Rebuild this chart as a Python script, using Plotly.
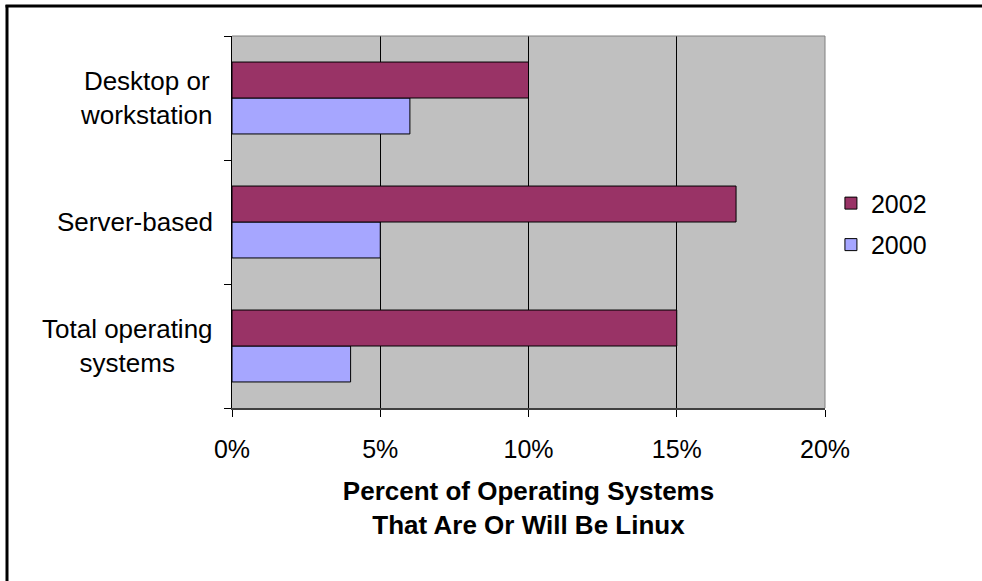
import plotly.graph_objects as go

categories = ["Total operating<br>systems", "Server-based", "Desktop or<br>workstation"]
values_2000 = [0.04, 0.05, 0.06]
values_2002 = [0.15, 0.17, 0.10]
x_ticks = [0, 0.05, 0.10, 0.15, 0.20]
x_tick_labels = ["0%", "5%", "10%", "15%", "20%"]

W, H = 982, 581
L, R, T, B = 232, 157, 36, 173
pw, ph = W - L - R, H - T - B

FONT = "Liberation Sans, Arial, sans-serif"
FS = 25
FS_LAB = 26

fig = go.Figure()
fig.add_trace(go.Bar(y=categories, x=values_2000, name="2000", orientation="h",
                     legendgroup="a", legendrank=2,
                     marker=dict(color="#A6A6FF", line=dict(color="#000000", width=1))))
fig.add_trace(go.Bar(y=categories, x=values_2002, name="2002", orientation="h",
                     legendgroup="b", legendrank=1,
                     marker=dict(color="#993366", line=dict(color="#000000", width=1))))

def px_x(p):
    return (p - L) / pw

def px_y(p):
    return (H - B - p) / ph

shapes = [
    dict(type="line", xref="paper", yref="paper", x0=0, x1=1, y0=1, y1=1,
         line=dict(color="#808080", width=1)),
    dict(type="line", xref="paper", yref="paper", x0=1, x1=1, y0=0, y1=1,
         line=dict(color="#808080", width=1)),
    dict(type="line", xref="paper", yref="paper", x0=px_x(7), x1=px_x(7), y0=px_y(5), y1=px_y(H),
         line=dict(color="#000000", width=3)),
    dict(type="line", xref="paper", yref="paper", x0=px_x(5.5), x1=px_x(W), y0=px_y(6), y1=px_y(6),
         line=dict(color="#000000", width=3)),
]

annotations = [
    dict(x=px_x(215), xref="paper", y=c, yref="y", text=c, showarrow=False,
         xanchor="right", yanchor="middle", align="center",
         font=dict(family=FONT, size=FS_LAB, color="#000000"))
    for c in categories
]

fig.update_layout(
    width=W, height=H,
    margin=dict(l=L, r=R, t=T, b=B, pad=0),
    paper_bgcolor="#FFFFFF",
    plot_bgcolor="#C0C0C0",
    barmode="group",
    bargap=0.42,
    bargroupgap=0,
    font=dict(family=FONT, size=FS, color="#000000"),
    showlegend=True,
    legend=dict(traceorder="grouped", x=1.01, y=0.495, xanchor="left", yanchor="middle",
                font=dict(family=FONT, size=FS), bgcolor="rgba(0,0,0,0)",
                tracegroupgap=6),
    xaxis=dict(range=[0, 0.2], tickvals=x_ticks, ticktext=x_tick_labels,
               showgrid=True, gridcolor="#000000", gridwidth=1,
               showline=True, linecolor="#404040", linewidth=2,
               ticks="outside", ticklen=7, tickcolor="#000000",
               tickfont=dict(family=FONT, size=FS), zeroline=False,
               ticklabelstandoff=11,
               title=dict(text="<b>Percent of Operating Systems<br>That Are Or Will Be Linux</b>",
                          font=dict(family=FONT, size=FS_LAB), standoff=20)),
    yaxis=dict(type="category", categoryorder="array", categoryarray=categories,
               showline=True, linecolor="#000000", linewidth=1,
               ticks="outside", ticklen=7, tickcolor="#000000", tickson="boundaries",
               showgrid=False, showticklabels=False),
    shapes=shapes,
    annotations=annotations,
)

fig.write_html("out.html", config={"displayModeBar": False},
               post_script="document.body.style.margin='0';document.body.style.overflow='hidden';"
                           "document.documentElement.style.overflow='hidden';")
